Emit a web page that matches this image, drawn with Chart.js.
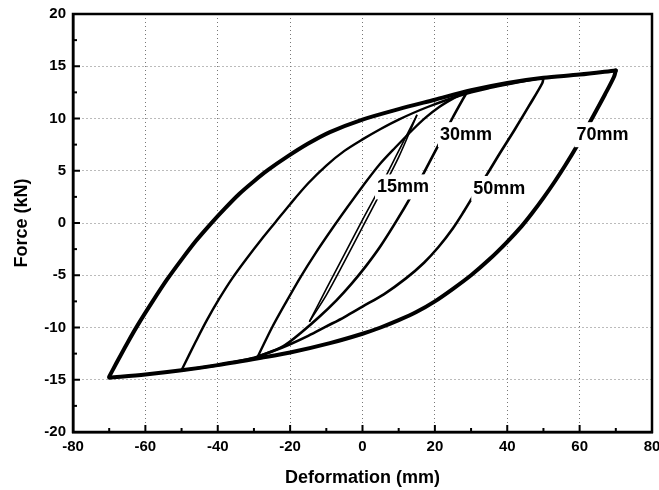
<!DOCTYPE html>
<html>
<head>
<meta charset="utf-8">
<script src="https://cdn.jsdelivr.net/npm/chart.js@4.4.1/dist/chart.umd.min.js"></script>
<style>
  html, body { margin: 0; padding: 0; background: #fff; }
</style>
</head>
<body>
<canvas id="hysteresis" width="659" height="490"></canvas>
<script>
// x = deformation (mm), y = force (kN)
// each loop split in its loading (up) and unloading (down) branch

const loop70UpX = [-70, -68, -65, -62, -58, -54, -50, -46, -42, -38, -34, -30, -26, -21, -15, -9, 0, 10, 20, 30, 40, 50, 60, 70];
const loop70UpY = [-14.7, -13.4, -11.5, -9.7, -7.5, -5.4, -3.5, -1.7, -0.1, 1.4, 2.8, 4.0, 5.1, 6.3, 7.6, 8.7, 9.9, 10.9, 11.8, 12.7, 13.4, 13.9, 14.2, 14.6];
const loop70DownX = [70, 69.5, 67, 64.5, 62, 59.3, 56, 53, 50, 47, 44, 40, 35, 30, 25, 20, 15, 10, 5, 0, -9, -20, -28, -40, -50, -60, -70];
const loop70DownY = [14.6, 14.0, 12.3, 10.7, 9.1, 7.4, 5.5, 3.9, 2.4, 1.0, -0.3, -1.8, -3.5, -5.0, -6.3, -7.5, -8.5, -9.3, -10.0, -10.6, -11.5, -12.4, -12.9, -13.6, -14.1, -14.5, -14.8];

const loop50UpX = [-50, -49.6, -46, -43, -39.5, -36, -32, -28, -24, -20, -15, -10, -5, 0, 5, 10, 18, 27, 35, 42, 50];
const loop50UpY = [-14.1, -13.8, -11.3, -9.3, -7.2, -5.3, -3.4, -1.6, 0.1, 1.8, 3.8, 5.5, 6.9, 8.0, 9.0, 9.9, 11.1, 12.2, 12.9, 13.4, 13.9];
const loop50DownX = [50, 49.7, 46, 42, 38, 34.5, 31, 28, 25, 21, 17, 12, 6, 0, -5, -10, -15, -20, -25, -30, -40, -50];
const loop50DownY = [13.9, 13.4, 11.2, 8.9, 6.7, 4.7, 2.8, 1.1, -0.5, -2.3, -3.8, -5.3, -6.8, -8.0, -9.0, -9.9, -10.8, -11.6, -12.3, -12.9, -13.6, -14.1];

const loop30UpX = [-29, -28.4, -25, -21, -17, -13, -8.5, -4, 0, 4.7, 9, 13.8, 17.5, 21.2, 25, 29];
const loop30UpY = [-12.8, -12.4, -10.0, -7.5, -5.1, -2.9, -0.6, 1.6, 3.5, 5.6, 7.2, 8.9, 10.1, 11.1, 11.9, 12.6];
const loop30DownX = [29, 28, 24.8, 21.2, 17.1, 13.5, 9.4, 5, 1, -3, -7.2, -12, -17, -22, -29];
const loop30DownY = [12.6, 12.0, 10.0, 7.6, 4.9, 2.6, 0.2, -2.2, -4.1, -5.8, -7.4, -9.0, -10.5, -11.8, -12.8];

const loop15UpX = [-14.6, -10, -5, 0, 5, 10, 15];
const loop15UpY = [-9.4, -6.3, -3.0, 0.3, 3.5, 6.9, 10.3];
const loop15DownX = [15, 10, 5, 0, -5, -10, -14.6];
const loop15DownY = [10.3, 6.3, 2.9, -0.4, -3.7, -6.9, -9.4];

// amplitude labels and where they sit (data coords)
const ampLabels = ['15mm', '30mm', '50mm', '70mm'];
const ampLabelX = [11.2, 28.6, 37.8, 66.3];
const ampLabelY = [3.5, 8.5, 3.35, 8.5];

Chart.defaults.font.family = '"Liberation Sans", Arial, sans-serif';
Chart.defaults.color = '#000';

function pts(xs, ys) {
    return xs.map((x, i) => ({ x: x, y: ys[i] }));
}

function branch(xs, ys, width) {
    return {
        data: pts(xs, ys),
        borderColor: '#000',
        borderWidth: width,
        pointRadius: 0,
        fill: false,
        tension: 0.3,
        borderJoinStyle: 'round',
        borderCapStyle: 'round'
    };
}

// inward ticks, box frame and the amplitude tags
const frameAndTags = {
    id: 'frameAndTags',
    afterDatasetsDraw(chart) {
        const { ctx, chartArea: a, scales: { x, y } } = chart;
        ctx.save();
        ctx.strokeStyle = '#000';
        ctx.lineWidth = 2;
        for (let v = x.min; v <= x.max; v += 10) {
            const px = x.getPixelForValue(v);
            const len = v % 20 === 0 ? 7 : 4;
            ctx.beginPath();
            ctx.moveTo(px, a.bottom);
            ctx.lineTo(px, a.bottom - len);
            ctx.stroke();
        }
        for (let v = y.min; v <= y.max; v += 2.5) {
            const py = y.getPixelForValue(v);
            const len = v % 5 === 0 ? 7 : 4;
            ctx.beginPath();
            ctx.moveTo(a.left, py);
            ctx.lineTo(a.left + len, py);
            ctx.stroke();
        }
        ctx.lineWidth = 2.5;
        ctx.strokeRect(a.left, a.top, a.right - a.left, a.bottom - a.top);

        ctx.font = 'bold 18px "Liberation Sans", Arial, sans-serif';
        ctx.textAlign = 'center';
        ctx.textBaseline = 'middle';
        ampLabels.forEach((t, i) => {
            const px = x.getPixelForValue(ampLabelX[i]);
            const py = y.getPixelForValue(ampLabelY[i]);
            const w = ctx.measureText(t).width;
            ctx.fillStyle = '#fff';
            ctx.fillRect(px - w / 2 - 2, py - 12, w + 4, 25);
            ctx.fillStyle = '#000';
            ctx.fillText(t, px, py + 1);
        });
        ctx.restore();
    }
};

new Chart(document.getElementById('hysteresis'), {
    type: 'line',
    data: {
        datasets: [
            branch(loop15UpX, loop15UpY, 1.6),
            branch(loop15DownX, loop15DownY, 1.6),
            branch(loop30UpX, loop30UpY, 2.4),
            branch(loop30DownX, loop30DownY, 2.6),
            branch(loop50UpX, loop50UpY, 2.4),
            branch(loop50DownX, loop50DownY, 2.6),
            branch(loop70UpX, loop70UpY, 4),
            branch(loop70DownX, loop70DownY, 4)
        ]
    },
    options: {
        responsive: false,
        animation: false,
        layout: { padding: { left: 0, right: 7, top: 14, bottom: 0 } },
        plugins: {
            legend: { display: false },
            tooltip: { enabled: false }
        },
        scales: {
            x: {
                type: 'linear',
                min: -80,
                max: 80,
                ticks: { stepSize: 20, padding: 6, font: { size: 15, weight: 'bold' }, color: '#000' },
                grid: { color: '#777', lineWidth: 1, drawTicks: false },
                border: { display: true, color: '#000', width: 2.5, dash: [1, 3] },
                title: {
                    display: true,
                    text: 'Deformation (mm)',
                    font: { size: 18, weight: 'bold' },
                    padding: { top: 4, bottom: 1 }
                },
                afterFit(s) {
                    s.height = 58;
                    s.paddingLeft = 0;
                    s.paddingRight = 0;
                }
            },
            y: {
                min: -20,
                max: 20,
                ticks: { stepSize: 5, padding: 7, font: { size: 15, weight: 'bold' }, color: '#000' },
                grid: { color: '#777', lineWidth: 1, drawTicks: false },
                border: { display: true, color: '#000', width: 2.5, dash: [1, 3] },
                title: {
                    display: true,
                    text: 'Force (kN)',
                    font: { size: 18, weight: 'bold' },
                    padding: { top: 11, bottom: 0 }
                },
                afterFit(s) {
                    s.width = 73;
                    s.paddingTop = 0;
                    s.paddingBottom = 0;
                }
            }
        }
    },
    plugins: [frameAndTags]
});
</script>
</body>
</html>
